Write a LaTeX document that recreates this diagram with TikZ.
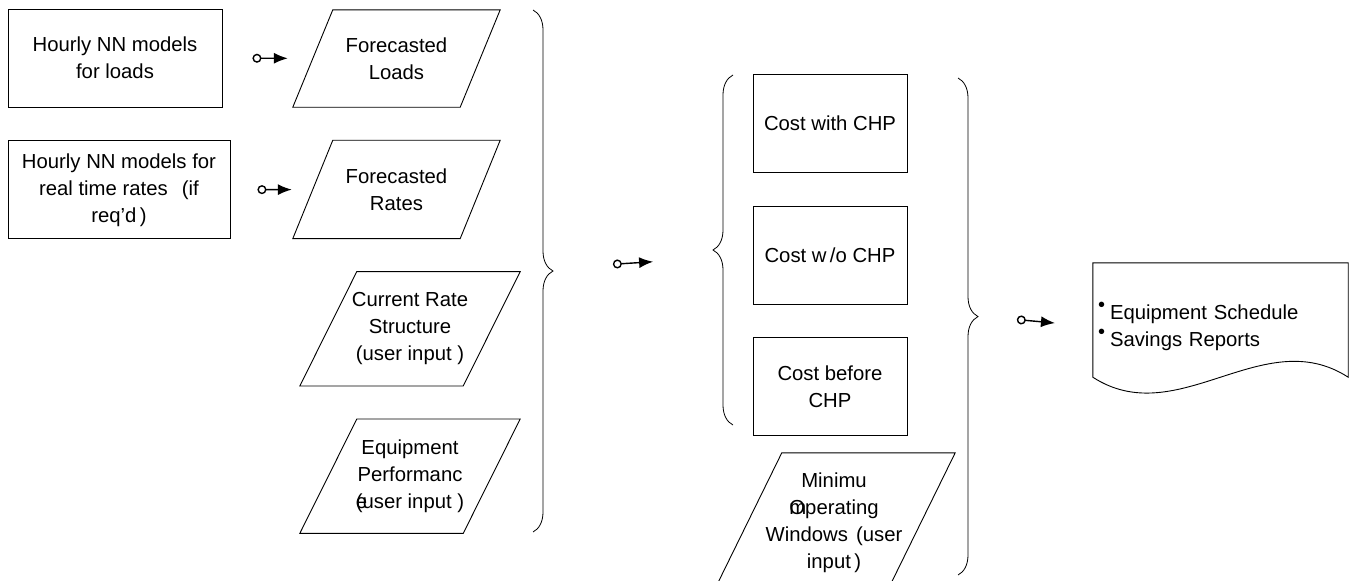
\documentclass[tikz,border=0pt]{standalone}
\usepackage{fontspec}
\setmainfont{Liberation Sans}
\usepackage{tikz}
\usetikzlibrary{positioning,arrows.meta,decorations.pathreplacing}

\newcommand{\bul}{\makebox[12pt][l]{\raisebox{8pt}{\fontsize{20}{20}\selectfont\textbullet}}}

\begin{document}
\begin{tikzpicture}[x=1pt, y=-1pt, node distance=33pt,
    font=\fontsize{20.3}{27}\selectfont,
    proc/.style={rectangle, draw, line width=0.9pt, align=center, minimum height=98pt},
    datain/.style={rectangle, align=center, inner sep=0pt},
    cost/.style={rectangle, draw, line width=0.9pt, align=center, minimum width=154pt, minimum height=98pt},
    flow/.style={{Circle[open,length=9pt,width=9pt]}-{Latex[length=14pt,width=11pt]}, line width=1.4pt},
    curly/.style={decorate, decoration={brace, amplitude=20pt}, line width=0.8pt}]

    \useasboundingbox (0,0) rectangle (1353,581);
    \clip (0,0) rectangle (1353,581);

    % NN models
    \node[proc, minimum width=214pt] (load) at (115,58) {Hourly NN models\\for loads};
    \node[proc, minimum width=222pt, below=of load.south west, anchor=north west] (rate) {Hourly NN models for\\real time rates\hspace{0.7em}(if\\req'd\,)};

    % Forecasts and user inputs
    \node[datain, minimum width=207pt, minimum height=97pt] (fload) at (396.5,58.5) {Forecasted\\Loads};
    \node[datain, minimum width=207pt, minimum height=98pt, below=of fload] (frate) {Forecasted\\Rates};
    \node[datain, minimum width=220pt, minimum height=114pt, below=of frate, xshift=13.5pt] (crate) {Current Rate\\Structure\\(user input )};
    \node[datain, minimum width=220pt, minimum height=114pt, below=of crate] (eperf) {Equipment\\Performanc\\\rlap{e}(user input )};

    % Costs
    \node[cost] (cwith) at (830,123.5) {Cost with CHP};
    \node[cost, below=of cwith] (cwo) {Cost w\,/o CHP};
    \node[cost, below=32pt of cwo] (cbefore) {Cost before\\CHP};

    % Operating windows
    \node[datain, minimum width=242pt, minimum height=140pt] (minwin) at (834,523) {Minimu\\\rlap{m}Operating\\Windows\hspace{0.4em}(user\\input\,)};

    % Report
    \node[rectangle, minimum width=255pt, minimum height=127pt, text width=245pt, inner xsep=5pt, align=left] (report) at (1220.5,326.5) {\bul Equipment Schedule\\\bul Savings Reports};

    % Input shapes
    \foreach \n/\s in {fload/40, frate/40, crate/57, eperf/57, minwin/69}
        \draw[line width=0.9pt] ([xshift=\s pt]\n.north west) -- (\n.north east) -- ([xshift=-\s pt]\n.south east) -- (\n.south west) -- cycle;

    % Document shape
    \draw[line width=0.9pt] (report.north west) -- (report.north east) -- ([yshift=13pt]report.south east)
        .. controls ([xshift=-85pt,yshift=68pt]report.south east) and ([xshift=85pt,yshift=-42pt]report.south west) .. ([yshift=13pt]report.south west) -- cycle;

    % Braces
    \draw[curly] (533,10) -- (533,532);
    \draw[curly] (733,425) -- (733,75);
    \draw[curly, decoration={aspect=0.48}] (958,78) -- (958,575);
    \coordinate (tipA) at (553,268);
    \coordinate (tipB) at (713,258);
    \coordinate (tipC) at (978,316);

    % Arrows
    \draw[flow, shorten <=30pt, shorten >=5pt] (load) -- (fload);
    \draw[flow, shorten <=27pt, shorten >=1pt] (rate) -- (frate);
    \draw[flow, shorten <=60pt, shorten >=60pt] (tipA) -- (tipB);
    \draw[flow, shorten <=39pt, shorten >=38pt] (tipC) -- (report.west);

\end{tikzpicture}
\end{document}
